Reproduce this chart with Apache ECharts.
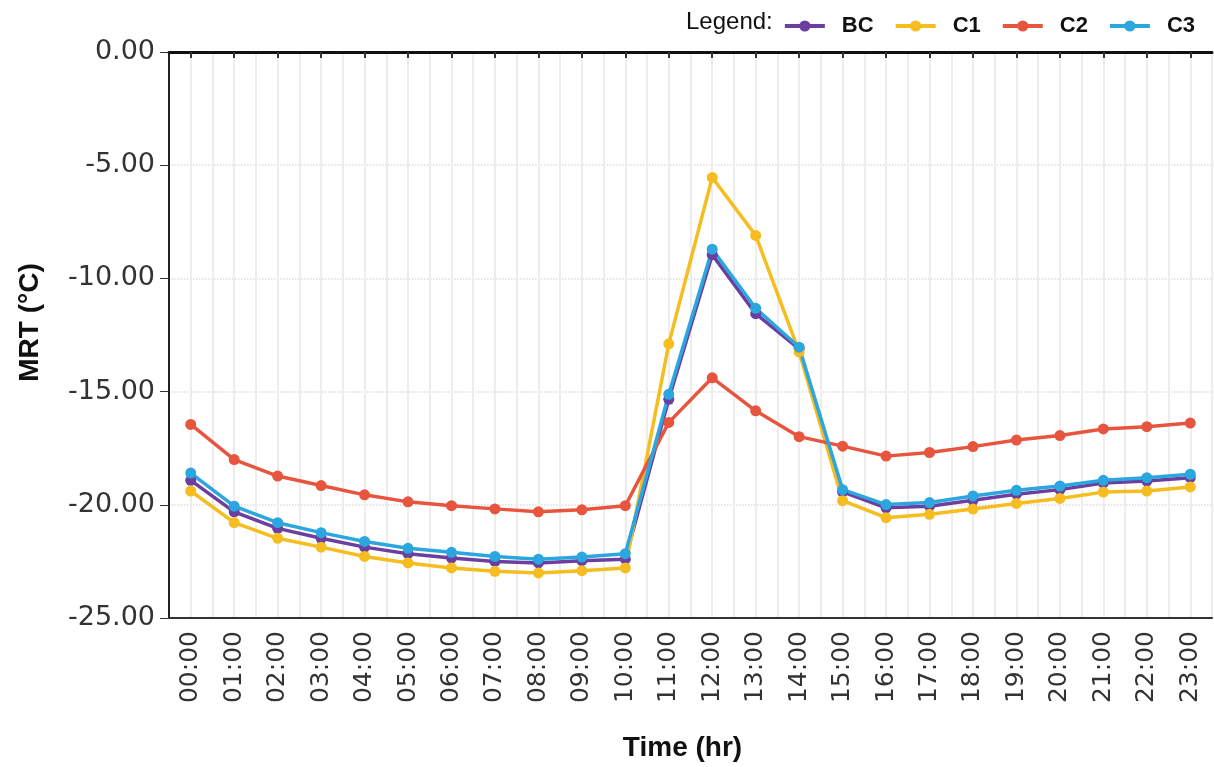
<!DOCTYPE html>
<html>
<head>
<meta charset="utf-8">
<script src="https://cdn.jsdelivr.net/npm/echarts@6/dist/echarts.min.js"></script>
<style>html,body{margin:0;padding:0;background:#fff;}#c{width:1214px;height:767px;}</style>
</head>
<body>
<div id="c"></div>
<script>
const categories = ['00:00','01:00','02:00','03:00','04:00','05:00','06:00','07:00','08:00','09:00','10:00','11:00','12:00','13:00','14:00','15:00','16:00','17:00','18:00','19:00','20:00','21:00','22:00','23:00'];
const BC = [-18.92,-20.31,-21.04,-21.48,-21.87,-22.16,-22.35,-22.50,-22.57,-22.47,-22.40,-15.34,-8.95,-11.56,-13.11,-19.43,-20.13,-20.06,-19.80,-19.53,-19.33,-19.04,-18.95,-18.80];
const C1 = [-19.39,-20.79,-21.48,-21.87,-22.28,-22.57,-22.79,-22.94,-23.01,-22.91,-22.79,-12.89,-5.54,-8.10,-13.25,-19.82,-20.57,-20.42,-20.19,-19.94,-19.72,-19.44,-19.39,-19.21];
const C2 = [-16.45,-18.00,-18.73,-19.15,-19.56,-19.87,-20.04,-20.18,-20.31,-20.22,-20.04,-16.36,-14.39,-15.85,-16.99,-17.41,-17.85,-17.69,-17.43,-17.14,-16.94,-16.65,-16.55,-16.39];
const C3 = [-18.60,-20.06,-20.79,-21.23,-21.62,-21.92,-22.10,-22.28,-22.40,-22.31,-22.16,-15.12,-8.71,-11.32,-13.04,-19.33,-19.99,-19.90,-19.61,-19.36,-19.17,-18.92,-18.80,-18.65];
const yTicks = { min: -25, max: 0, step: 5 };
const seriesNames = ['BC','C1','C2','C3'];
const colors = ['#6B3FA0','#F5BD1F','#E8553F','#2BA6DE'];

const chart = echarts.init(document.getElementById('c'), null, {renderer:'canvas'});
const mk = (name, data, color) => ({
  name, type:'line', data, xAxisIndex:0, yAxisIndex:0,
  symbol:'circle', symbolSize:11,
  lineStyle:{color, width:3.5}, itemStyle:{color},
  emphasis:{disabled:true}
});
chart.setOption({
  animation:false,
  backgroundColor:'#fff',
  grid:{left:169, right:2, top:52, bottom:145, containLabel:false},
  graphic:[{type:'text', left:686, top:10, style:{text:'Legend:', fontSize:24, fontFamily:'Liberation Sans, Arial', fill:'#111'}}],
  legend:{
    right:14, top:10, itemWidth:40, itemHeight:14, itemGap:20,
    data:seriesNames,
    lineStyle:{width:4},
    textStyle:{fontSize:22, fontWeight:'bold', color:'#111', fontFamily:'Liberation Sans, Arial', padding:[0,0,0,12]}
  },
  xAxis:[
    {type:'category', data:categories, position:'bottom', boundaryGap:true,
     axisLine:{onZero:false, lineStyle:{color:'#333', width:2}}, axisTick:{show:false},
     axisLabel:{rotate:90, fontSize:25, color:'#333', margin:13, fontFamily:'DejaVu Sans', interval:0},
     splitLine:{show:false},
     name:'Time (hr)', nameLocation:'middle', nameGap:116,
     nameTextStyle:{fontSize:28, fontWeight:'bold', color:'#111', fontFamily:'Liberation Sans, Arial', padding:[0,16,0,0]}},
    {type:'category', data:categories, position:'top', boundaryGap:true,
     axisLine:{onZero:false, lineStyle:{color:'#111', width:3}},
     axisTick:{show:true, inside:true, alignWithLabel:true, length:6, lineStyle:{color:'#333', width:2}},
     axisLabel:{show:false}, splitLine:{show:false}},
    {type:'value', min:-0.5, max:23.5, interval:0.5, position:'bottom',
     axisLine:{show:false, onZero:false}, axisTick:{show:false}, axisLabel:{show:false},
     splitLine:{show:true, lineStyle:{color:'#EDEDED', width:2}}}
  ],
  yAxis:{type:'value', min:yTicks.min, max:yTicks.max, interval:yTicks.step,
    axisLine:{show:true, onZero:false, lineStyle:{color:'#222', width:2}},
    axisTick:{show:true, length:9, lineStyle:{color:'#333'}},
    axisLabel:{fontSize:27, color:'#333', margin:14, fontFamily:'DejaVu Sans', formatter:v=>v.toFixed(2)},
    splitLine:{show:true, lineStyle:{color:'#DDDDDD', type:'dotted', width:1.5}},
    name:'MRT (°C)', nameLocation:'middle', nameGap:125, nameRotate:90,
    nameTextStyle:{fontSize:28, fontWeight:'bold', color:'#111', fontFamily:'Liberation Sans, Arial', padding:[0,0,0,25]}},
  series:[mk('BC',BC,colors[0]), mk('C1',C1,colors[1]), mk('C2',C2,colors[2]), mk('C3',C3,colors[3])]
});
</script>
</body>
</html>
